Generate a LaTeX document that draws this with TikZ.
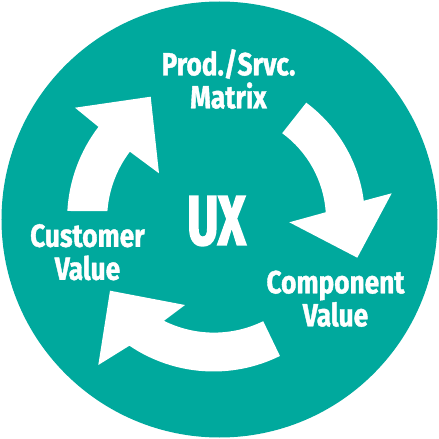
\documentclass[tikz,border=0pt]{standalone}
\usepackage{fontspec}
\newfontfamily\lblfont{Fira Sans}[FakeStretch=0.82,FakeBold=1.2]
\newfontfamily\uxfont{Fira Sans}[FakeStretch=0.68,FakeBold=2.5]
\definecolor{tealbg}{HTML}{00A99D}
\begin{document}
\begin{tikzpicture}[x=1pt,y=1pt,
  lbl/.style={text=white,font=\lblfont\bfseries\fontsize{32}{33}\selectfont,align=center,inner sep=0pt},
  bigtxt/.style={text=white,font=\uxfont\bfseries\fontsize{70}{70}\selectfont,inner sep=0pt},
  arrowshape/.style={fill=white,draw=none}]
\fill[white] (-219.5,-219.5) rectangle (219.5,219.5);
\useasboundingbox (-219.5,-219.5) rectangle (219.5,219.5);
\fill[tealbg] (0,0) circle (218);
% arrow 1 (left, pointing up-right)
\fill[arrowshape] (176.8:152.4) arc[start angle=176.8,end angle=142.6,radius=152.5]
  -- (-144.5,111.8) -- (-68.8,122.8) -- (-60.5,46.2) -- (142.9:112.4)
  arc[start angle=142.9,end angle=175.7,radius=112.4] -- cycle;
% arrow 2 (right, pointing down)
\fill[arrowshape] (53.4:145.5) arc[start angle=53.4,end angle=7.4,radius=145.5]
  -- (172.2,26.2) -- (137.8,-38.2) -- (69.8,-2.8) -- (3.9:106.5)
  arc[start angle=3.9,end angle=53.8,radius=107] -- cycle;
% arrow 3 (bottom, pointing left)
\begin{scope}[shift={(-6,-2)}]
\fill[arrowshape] (-63.7:150) arc[start angle=-63.7,end angle=-124.1,radius=150]
  -- (-115.2,-143.5) -- (-103.5,-69.2) -- (-28.5,-83.5) -- (-116.5:111)
  arc[start angle=-116.5,end angle=-63.9,radius=112] -- cycle;
\end{scope}
\node[lbl] (prod) at (9,140.5) {Prod./Srvc.\\Matrix};
\node[lbl] (cust) at (-132,-32.7) {Customer\\Value};
\node[lbl] (comp) at (116,-79.2) {Component\\Value};
\node[bigtxt] (ux) at (-3,-1.5) {UX};
\end{tikzpicture}
\end{document}
